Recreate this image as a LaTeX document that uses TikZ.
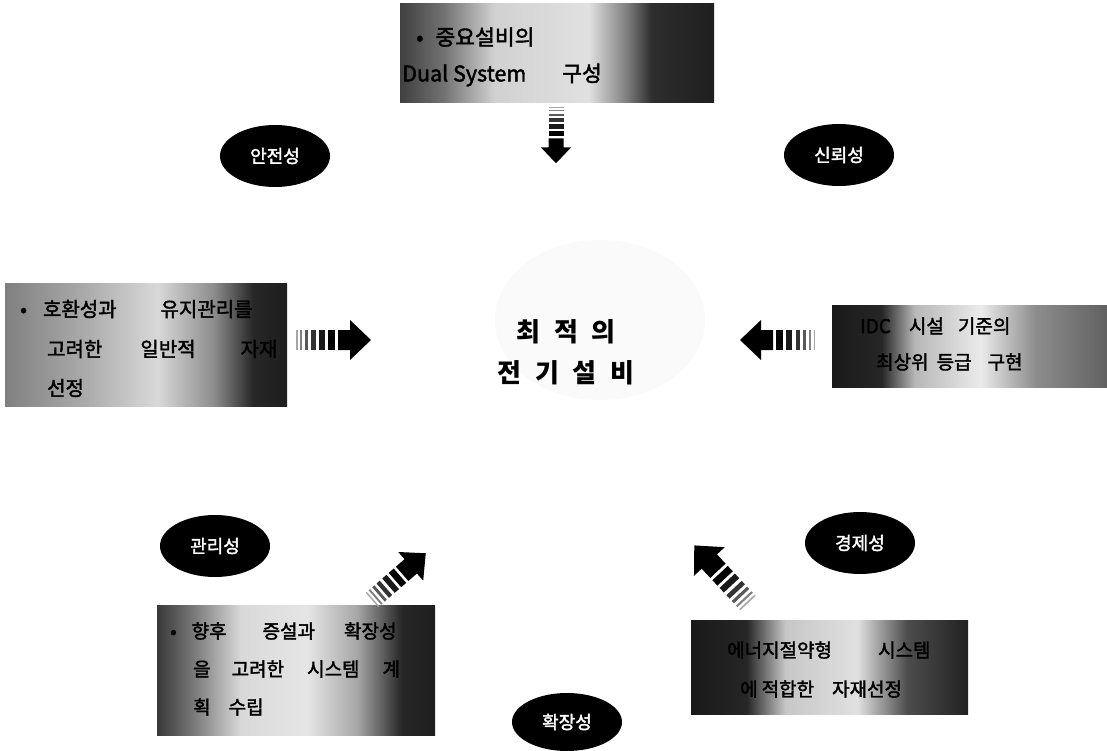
\documentclass[tikz,border=0pt]{standalone}
\usepackage{fontspec}
\setmainfont{Noto Sans CJK KR}
\newfontfamily\hv{Noto Sans CJK KR}[FakeBold=2]
\usetikzlibrary{shapes.geometric}
\pgfdeclarehorizontalshading{shTop}{100bp}{color(0bp)=(black!75); color(25bp)=(black!75); color(32bp)=(black!55); color(40bp)=(black!18); color(55bp)=(black!12); color(61bp)=(black!50); color(65bp)=(black!82); color(75bp)=(black!88); color(100bp)=(black!88)}
\pgfdeclarehorizontalshading{shLeft}{100bp}{color(0bp)=(black!50); color(25bp)=(black!50); color(40bp)=(black!32); color(52bp)=(black!15); color(62bp)=(black!45); color(69bp)=(black!85); color(75bp)=(black!88); color(100bp)=(black!88)}
\pgfdeclarehorizontalshading{shRight}{100bp}{color(0bp)=(black!90); color(25bp)=(black!90); color(34bp)=(black!85); color(40bp)=(black!28); color(52bp)=(black!8); color(62bp)=(black!45); color(75bp)=(black!62); color(100bp)=(black!62)}
\pgfdeclarehorizontalshading{shBL}{100bp}{color(0bp)=(black!78); color(25bp)=(black!78); color(31bp)=(black!55); color(40bp)=(black!15); color(52bp)=(black!10); color(61bp)=(black!35); color(69bp)=(black!85); color(75bp)=(black!88); color(100bp)=(black!88)}
\pgfdeclarehorizontalshading{shBR}{100bp}{color(0bp)=(black!90); color(25bp)=(black!90); color(35bp)=(black!85); color(42bp)=(black!22); color(55bp)=(black!12); color(64bp)=(black!70); color(75bp)=(black!87); color(100bp)=(black!87)}
\begin{document}
\begin{tikzpicture}[x=1pt,y=-1pt,
  blob/.style={ellipse, fill=black, text=white, minimum width=110pt, minimum height=62pt, inner sep=0pt, font=\hv\fontsize{18}{20}\selectfont},
  gbox/.style={rectangle, anchor=north west, inner sep=0pt, draw=none, shade},
  txt/.style={anchor=west, inner sep=0pt, font=\hv\fontsize{20}{22}\selectfont},
  rtxt/.style={anchor=west, inner sep=0pt, font=\hv\fontsize{19}{22}\selectfont},
  ttxt/.style={anchor=west, inner sep=0pt, font=\hv\fontsize{21.5}{25}\selectfont},
  ctxt/.style={inner sep=0pt, font=\fontsize{26}{30}\selectfont\bfseries},
  sarrow/.pic={
    \fill[black!35] (0,-10) rectangle (1.5,10);
    \fill[black!50] (4,-10) rectangle (6,10);
    \fill[black!65] (9,-10) rectangle (12,10);
    \fill[black!80] (15,-10) rectangle (19.5,10);
    \fill[black!90] (23,-10) rectangle (29,10);
    \fill[black] (32,-10) rectangle (39,10);
    \fill[black] (42,-10) -- (54,-10) -- (54,-20) -- (75,0) -- (54,20) -- (54,10) -- (42,10) -- cycle;
  }]
\useasboundingbox (0,0) rectangle (1107,751);
\fill[white] (0,0) rectangle (1107,751);
% faint background behind centre
\fill[black!2] (600,320) ellipse [x radius=105pt, y radius=80pt];

% gradient boxes
\node[gbox, shading=shTop, minimum width=314pt, minimum height=99pt] (btop) at (400,3) {};
\node[gbox, shading=shLeft, minimum width=282pt, minimum height=123pt] (bleft) at (5,283) {};
\node[gbox, shading=shRight, minimum width=275pt, minimum height=82pt] (bright) at (832,305) {};
\node[gbox, shading=shBL, minimum width=278pt, minimum height=130pt] (bbl) at (157,605) {};
\node[gbox, shading=shBR, minimum width=277pt, minimum height=94pt] (bbr) at (691,620) {};

% box texts
\node[ttxt] (ta) at (416,37) {•\hspace{12pt}중요설비의};
\node[ttxt] (tb) at (402,75) {Dual System\hspace{36pt}구성};

\node[txt] (la) at (20,309) {•\hspace{16pt}호환성과\hspace{44pt}유지관리를};
\node[txt] (lb) at (47,349) {고려한\hspace{38pt}일반적\hspace{45pt}자재};
\node[txt] (lc) at (47,388) {선정};

\node[rtxt] (ra) at (860,326) {IDC\hspace{18pt}시설\hspace{14pt}기준의};
\node[rtxt] (rb) at (876,362) {최상위\hspace{8pt}등급\hspace{16pt}구현};

\node[rtxt] (ba) at (170,631) {•\hspace{15pt}향후\hspace{36pt}증설과\hspace{29pt}확장성};
\node[rtxt] (bb) at (193,669) {을\hspace{21pt}고려한\hspace{23pt}시스템\hspace{23pt}계};
\node[rtxt] (bc) at (193,707) {획\hspace{18pt}수립};

\node[rtxt] (da) at (727,650) {에너지절약형\hspace{46pt}시스템};
\node[rtxt] (db) at (740,689) {에\hspace{4pt}적합한\hspace{18pt}자재선정};

% centre text
\node[ctxt] (c1) at (566,332) {최\hspace{14pt}적\hspace{14pt}의};
\node[ctxt] (c2) at (566,373) {전\hspace{14pt}기\hspace{14pt}설\hspace{14pt}비};

% ellipses
\node[blob] (e1) at (275,156) {안전성};
\node[blob] (e2) at (839,155) {신뢰성};
\node[blob] (e3) at (215,546) {관리성};
\node[blob] (e4) at (860,543) {경제성};
\node[blob, minimum height=58pt] (e5) at (567,722) {확장성};

% striped arrows
\coordinate (aT) at (556,107);
\coordinate (aL) at (296,340);
\coordinate (aR) at (815,340);
\coordinate (aBL) at (372,600);
\coordinate (aBR) at (748,603);
\path (aT) pic[rotate=-90, scale=0.75] {sarrow};
\path (aL) pic {sarrow};
\path (aR) pic[rotate=180] {sarrow};
\path (aBL) pic[rotate=41, scale=0.95] {sarrow};
\path (aBR) pic[rotate=133, scale=1.05] {sarrow};
\end{tikzpicture}
\end{document}
